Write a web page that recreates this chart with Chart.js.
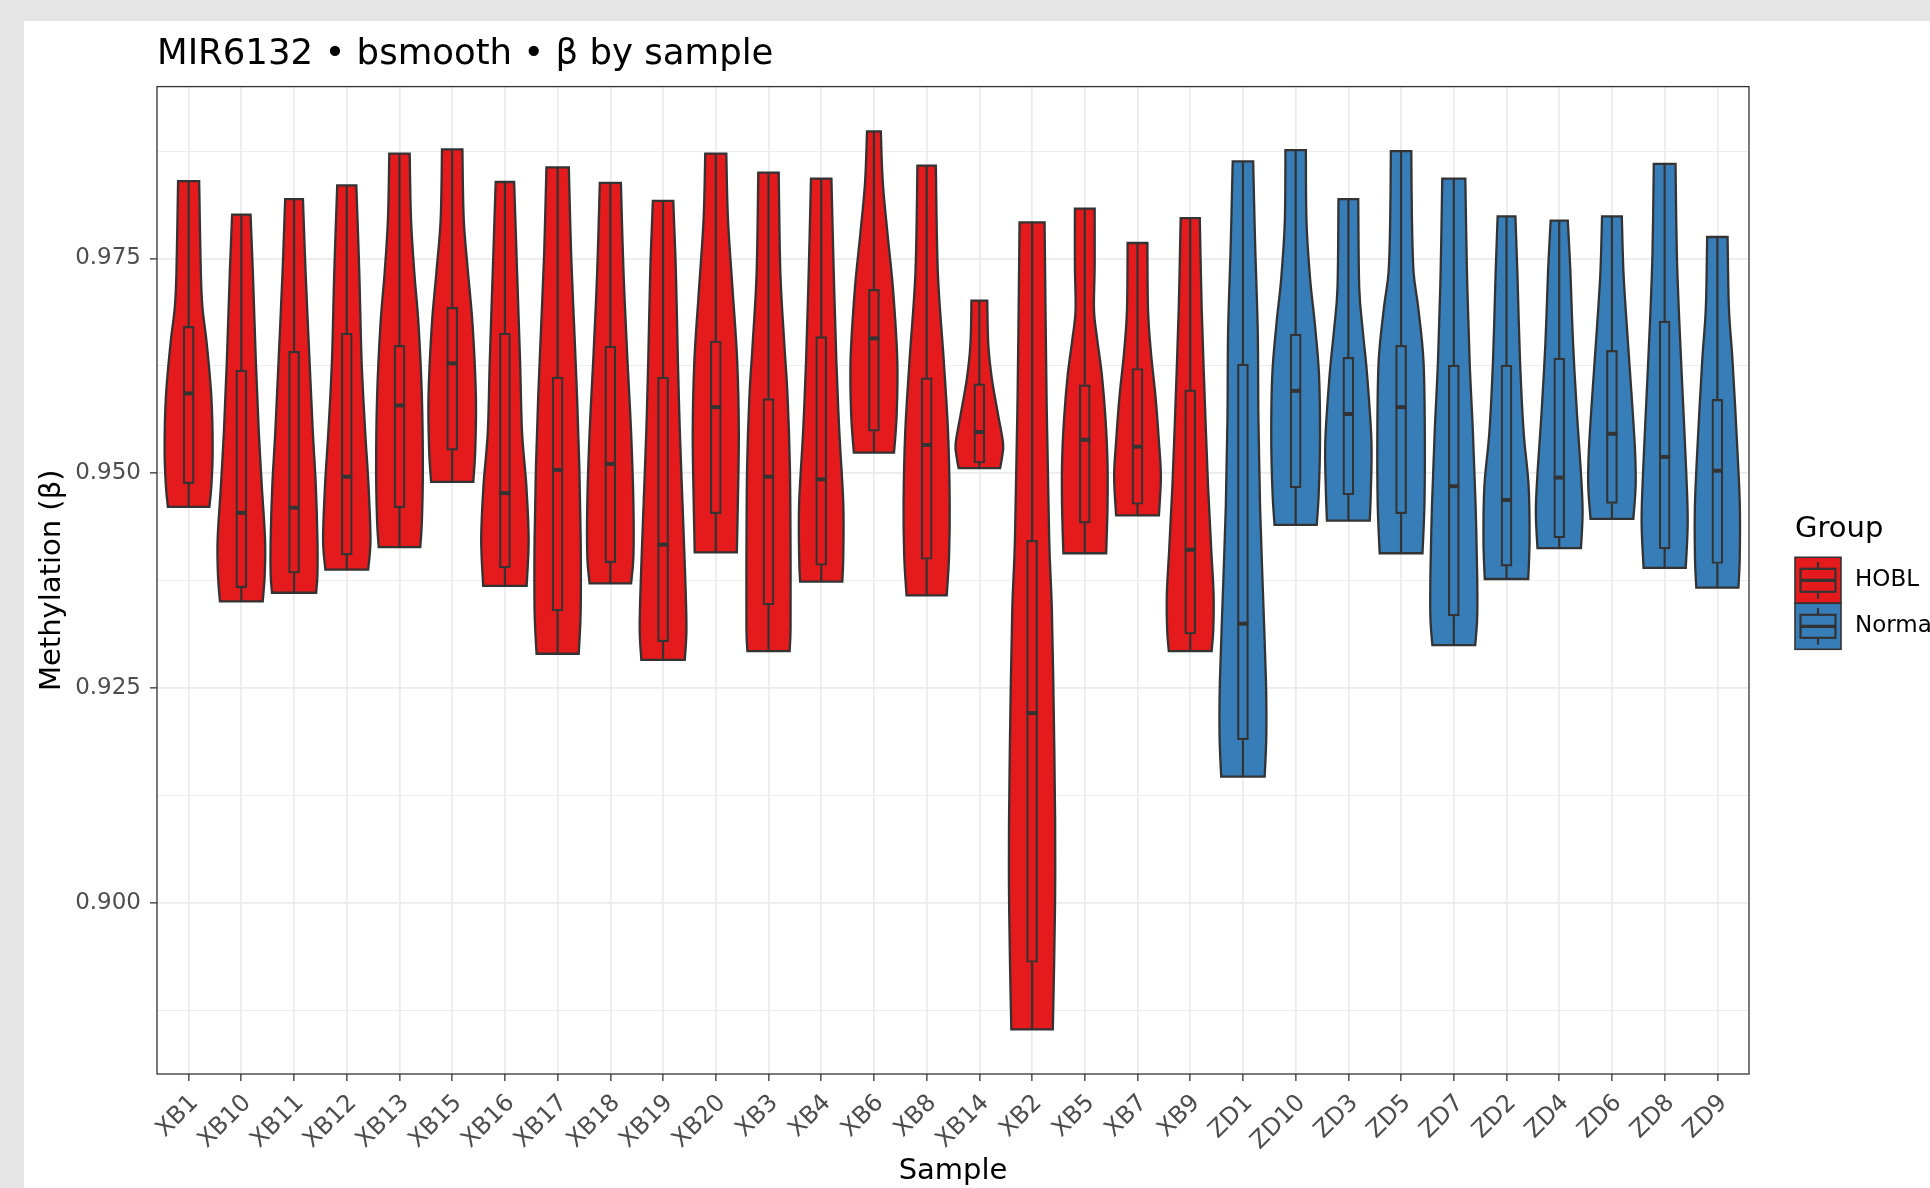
<!DOCTYPE html>
<html>
<head>
<meta charset="utf-8">
<title>MIR6132 violin</title>
<script src="https://cdn.jsdelivr.net/npm/chart.js@4.4.0/dist/chart.umd.min.js"></script>
<style>
  html, body { margin: 0; padding: 0; background: #e5e5e5; overflow: hidden; }
  .card { position: absolute; left: 24px; top: 21px; width: 1910px; height: 1170px; background: #ffffff; }
  #wrap { position: absolute; left: 0; top: 0; width: 1930px; height: 1188px; }
</style>
</head>
<body>
<div class="card"></div>
<div id="wrap"><canvas id="chart" width="1930" height="1188"></canvas></div>
<script>
// Samples in plotting order and their group
const samples = ['XB1', 'XB10', 'XB11', 'XB12', 'XB13', 'XB15', 'XB16', 'XB17', 'XB18', 'XB19',
  'XB20', 'XB3', 'XB4', 'XB6', 'XB8', 'XB14', 'XB2', 'XB5', 'XB7', 'XB9',
  'ZD1', 'ZD10', 'ZD3', 'ZD5', 'ZD7', 'ZD2', 'ZD4', 'ZD6', 'ZD8', 'ZD9'];
const groups = samples.map(s => s.startsWith('XB') ? 'HOBL' : 'Normal');

// Box plot statistics (beta values)
const whiskerHigh = [0.9840, 0.9801, 0.9819, 0.9835, 0.9872, 0.9877, 0.9839, 0.9856, 0.9838, 0.9817,
  0.9872, 0.9850, 0.9843, 0.9898, 0.9858, 0.9701, 0.9792, 0.9808, 0.9768, 0.9797,
  0.9863, 0.9876, 0.9819, 0.9875, 0.9843, 0.9799, 0.9794, 0.9799, 0.9860, 0.9775];
const q3 = [0.9671, 0.9620, 0.9642, 0.9663, 0.9649, 0.9693, 0.9663, 0.9612, 0.9648, 0.9612,
  0.9654, 0.9587, 0.9659, 0.9714, 0.9611, 0.9604, 0.9422, 0.9603, 0.9622, 0.9597,
  0.9627, 0.9662, 0.9635, 0.9649, 0.9626, 0.9626, 0.9634, 0.9643, 0.9677, 0.9586];
const medians = [0.9593, 0.9454, 0.9460, 0.9496, 0.9579, 0.9628, 0.9477, 0.9504, 0.9511, 0.9417,
  0.9577, 0.9496, 0.9493, 0.9657, 0.9533, 0.9548, 0.9221, 0.9539, 0.9531, 0.9411,
  0.9325, 0.9596, 0.9569, 0.9577, 0.9485, 0.9469, 0.9495, 0.9546, 0.9519, 0.9503];
const q1 = [0.9488, 0.9367, 0.9384, 0.9405, 0.9460, 0.9527, 0.9390, 0.9340, 0.9396, 0.9304,
  0.9453, 0.9347, 0.9393, 0.9549, 0.9400, 0.9512, 0.8931, 0.9442, 0.9464, 0.9313,
  0.9190, 0.9483, 0.9475, 0.9453, 0.9334, 0.9392, 0.9425, 0.9465, 0.9412, 0.9395];
const whiskerLow = [0.9461, 0.9351, 0.9361, 0.9388, 0.9414, 0.9490, 0.9369, 0.9290, 0.9372, 0.9283,
  0.9408, 0.9293, 0.9374, 0.9524, 0.9358, 0.9506, 0.8853, 0.9407, 0.9451, 0.9293,
  0.9147, 0.9440, 0.9445, 0.9407, 0.9300, 0.9377, 0.9413, 0.9447, 0.9390, 0.9367];

// Violin outlines: [beta, relative half width] from top to bottom
const violinProfiles = [
  [[0.9840, 32], [0.9734, 37], [0.9693, 42], [0.9651, 55], [0.9589, 69], [0.9527, 73], [0.9485, 69], [0.9461, 63]],
  [[0.9801, 28], [0.9734, 35], [0.9631, 44], [0.9548, 53], [0.9486, 62], [0.9423, 72], [0.9382, 71], [0.9351, 65]],
  [[0.9819, 27], [0.9734, 35], [0.9631, 47], [0.9548, 57], [0.9486, 66], [0.9423, 71], [0.9382, 71], [0.9361, 67]],
  [[0.9835, 29], [0.9734, 38], [0.9631, 45], [0.9548, 56], [0.9486, 66], [0.9423, 72], [0.9388, 65]],
  [[0.9872, 31], [0.9796, 35], [0.9734, 45], [0.9672, 58], [0.9589, 68], [0.9506, 71], [0.9444, 68], [0.9414, 63]],
  [[0.9877, 31], [0.9796, 35], [0.9734, 48], [0.9672, 62], [0.9589, 72], [0.9527, 70], [0.9490, 64]],
  [[0.9839, 28], [0.9734, 37], [0.9631, 46], [0.9548, 52], [0.9486, 65], [0.9423, 72], [0.9369, 66]],
  [[0.9856, 34], [0.9755, 41], [0.9672, 50], [0.9589, 59], [0.9506, 66], [0.9423, 70], [0.9340, 70], [0.9290, 64]],
  [[0.9838, 32], [0.9734, 40], [0.9631, 52], [0.9548, 63], [0.9465, 70], [0.9403, 70], [0.9372, 63]],
  [[0.9817, 31], [0.9734, 39], [0.9631, 45], [0.9548, 51], [0.9465, 59], [0.9382, 67], [0.9320, 71], [0.9283, 66]],
  [[0.9872, 32], [0.9796, 37], [0.9714, 51], [0.9631, 65], [0.9548, 70], [0.9465, 67], [0.9408, 64]],
  [[0.9850, 31], [0.9734, 36], [0.9651, 48], [0.9589, 58], [0.9506, 65], [0.9403, 67], [0.9320, 67], [0.9293, 64]],
  [[0.9843, 31], [0.9734, 38], [0.9631, 46], [0.9548, 55], [0.9465, 67], [0.9403, 67], [0.9374, 64]],
  [[0.9898, 21], [0.9838, 27], [0.9776, 42], [0.9714, 58], [0.9631, 71], [0.9568, 69], [0.9524, 61]],
  [[0.9858, 28], [0.9734, 34], [0.9631, 52], [0.9548, 65], [0.9465, 70], [0.9403, 68], [0.9358, 61]],
  [[0.9701, 24], [0.9651, 27], [0.9610, 38], [0.9568, 57], [0.9535, 72], [0.9519, 69], [0.9506, 63]],
  [[0.9792, 38], [0.9589, 44], [0.9423, 52], [0.9343, 60], [0.9219, 66], [0.9095, 70], [0.9012, 70], [0.8930, 67], [0.8853, 63]],
  [[0.9808, 30], [0.9741, 30], [0.9690, 28], [0.9655, 38], [0.9614, 52], [0.9563, 63], [0.9512, 69], [0.9461, 69], [0.9407, 65]],
  [[0.9768, 30], [0.9690, 32], [0.9640, 41], [0.9588, 55], [0.9537, 65], [0.9496, 71], [0.9451, 65]],
  [[0.9797, 29], [0.9690, 35], [0.9588, 44], [0.9486, 54], [0.9410, 64], [0.9359, 71], [0.9318, 70], [0.9293, 65]],
  [[0.9863, 31], [0.9767, 37], [0.9665, 45], [0.9563, 47], [0.9461, 52], [0.9359, 61], [0.9257, 70], [0.9195, 71], [0.9147, 66]],
  [[0.9876, 31], [0.9792, 33], [0.9726, 44], [0.9675, 58], [0.9614, 71], [0.9537, 74], [0.9476, 70], [0.9440, 64]],
  [[0.9819, 30], [0.9716, 33], [0.9665, 44], [0.9614, 57], [0.9537, 70], [0.9476, 68], [0.9445, 65]],
  [[0.9875, 31], [0.9796, 33], [0.9734, 38], [0.9693, 52], [0.9631, 68], [0.9548, 72], [0.9465, 71], [0.9407, 65]],
  [[0.9843, 35], [0.9734, 40], [0.9631, 48], [0.9548, 58], [0.9465, 66], [0.9382, 71], [0.9332, 71], [0.9300, 65]],
  [[0.9799, 27], [0.9734, 33], [0.9631, 41], [0.9548, 52], [0.9486, 67], [0.9423, 70], [0.9377, 66]],
  [[0.9794, 26], [0.9734, 34], [0.9651, 42], [0.9568, 54], [0.9506, 65], [0.9456, 71], [0.9413, 66]],
  [[0.9799, 30], [0.9734, 35], [0.9672, 45], [0.9589, 60], [0.9527, 70], [0.9486, 72], [0.9447, 65]],
  [[0.9860, 33], [0.9755, 37], [0.9672, 45], [0.9589, 55], [0.9506, 65], [0.9444, 70], [0.9390, 64]],
  [[0.9775, 31], [0.9693, 35], [0.9631, 46], [0.9548, 58], [0.9465, 68], [0.9403, 68], [0.9367, 64]]
];

// Axis ticks
const yMajorTicks = [0.900, 0.925, 0.950, 0.975];
const yMinorTicks = [0.8875, 0.9125, 0.9375, 0.9625, 0.9875];
const yRange = [0.8801, 0.9950];

const groupNames = ['HOBL', 'Normal'];
const groupColors = { HOBL: '#E41A1C', Normal: '#377EB8' };

const FONT = "'DejaVu Sans', 'Noto Sans', sans-serif";
const WIDTH_SCALE = 1 / 160;   // relative width -> x units
const INK = '#333333';
const BOX_PX = 11;

// smooth curve through a list of pixel points (Catmull-Rom as bezier)
function curveThrough(ctx, p) {
  for (let k = 0; k < p.length - 1; k++) {
    const p0 = p[k - 1] || p[k], p1 = p[k], p2 = p[k + 1], p3 = p[k + 2] || p2;
    ctx.bezierCurveTo(
      p1[0] + (p2[0] - p0[0]) / 6, p1[1] + (p2[1] - p0[1]) / 6,
      p2[0] - (p3[0] - p1[0]) / 6, p2[1] - (p3[1] - p1[1]) / 6,
      p2[0], p2[1]);
  }
}

const violinPlugin = {
  id: 'violins',
  beforeDatasetsDraw(chart) {
    const { ctx, scales: { x, y } } = chart;
    ctx.save();
    samples.forEach((name, i) => {
      const cx = x.getPixelForValue(i);
      const right = violinProfiles[i].map(([v, w]) => [x.getPixelForValue(i + w * WIDTH_SCALE), y.getPixelForValue(v)]);
      const left = violinProfiles[i].map(([v, w]) => [x.getPixelForValue(i - w * WIDTH_SCALE), y.getPixelForValue(v)]).reverse();
      ctx.beginPath();
      ctx.moveTo(left[left.length - 1][0], left[left.length - 1][1]);
      ctx.lineTo(right[0][0], right[0][1]);
      curveThrough(ctx, right);
      ctx.lineTo(left[0][0], left[0][1]);
      curveThrough(ctx, left);
      ctx.closePath();
      ctx.fillStyle = groupColors[groups[i]];
      ctx.fill();
      ctx.lineWidth = 2.3;
      ctx.strokeStyle = INK;
      ctx.lineJoin = 'miter';
      ctx.stroke();

      // whiskers
      ctx.beginPath();
      ctx.moveTo(cx, y.getPixelForValue(whiskerHigh[i]));
      ctx.lineTo(cx, y.getPixelForValue(q3[i]));
      ctx.moveTo(cx, y.getPixelForValue(q1[i]));
      ctx.lineTo(cx, y.getPixelForValue(whiskerLow[i]));
      ctx.lineWidth = 2.2;
      ctx.stroke();
    });
    ctx.restore();
  },
  afterDatasetsDraw(chart) {
    const { ctx, chartArea, scales: { x, y } } = chart;
    ctx.save();
    // medians
    ctx.strokeStyle = INK;
    ctx.lineWidth = 4;
    ctx.lineCap = 'butt';
    samples.forEach((name, i) => {
      const cx = x.getPixelForValue(i);
      const my = y.getPixelForValue(medians[i]);
      ctx.beginPath();
      ctx.moveTo(cx - BOX_PX / 2, my);
      ctx.lineTo(cx + BOX_PX / 2, my);
      ctx.stroke();
    });
    // panel border
    ctx.lineWidth = 1.3;
    ctx.strokeStyle = INK;
    ctx.strokeRect(chartArea.left, chartArea.top, chartArea.right - chartArea.left, chartArea.bottom - chartArea.top);
    ctx.restore();
  },
  afterDraw(chart) {
    const { ctx, chartArea } = chart;
    const mid = (chartArea.top + chartArea.bottom) / 2;
    const lx = chartArea.right + 46;
    const key = 46;
    ctx.save();
    ctx.fillStyle = '#000';
    ctx.font = '29px ' + FONT;
    ctx.textBaseline = 'middle';
    ctx.textAlign = 'left';
    ctx.fillText('Group', lx, mid - 51);
    groupNames.forEach((g, k) => {
      const ky = mid - 23 + k * key;
      const col = groupColors[g];
      ctx.fillStyle = col;
      ctx.fillRect(lx, ky, key, key);
      ctx.strokeStyle = INK;
      ctx.lineWidth = 1.6;
      ctx.strokeRect(lx, ky, key, key);
      const kc = lx + key / 2;
      ctx.lineWidth = 2.2;
      ctx.beginPath();
      ctx.moveTo(kc, ky + key * 0.1); ctx.lineTo(kc, ky + key * 0.25);
      ctx.moveTo(kc, ky + key * 0.75); ctx.lineTo(kc, ky + key * 0.9);
      ctx.stroke();
      ctx.fillRect(lx + key * 0.12, ky + key * 0.25, key * 0.76, key * 0.5);
      ctx.strokeRect(lx + key * 0.12, ky + key * 0.25, key * 0.76, key * 0.5);
      ctx.lineWidth = 3.2;
      ctx.beginPath();
      ctx.moveTo(lx + key * 0.12, ky + key * 0.5); ctx.lineTo(lx + key * 0.88, ky + key * 0.5);
      ctx.stroke();
      ctx.fillStyle = '#000';
      ctx.font = '23px ' + FONT;
      ctx.fillText(g, lx + key + 14, ky + key / 2);
    });
    ctx.restore();
  }
};

const isMajor = v => yMajorTicks.some(t => Math.abs(t - v) < 1e-9);

const ctx = document.getElementById('chart').getContext('2d');
new Chart(ctx, {
  type: 'bar',
  data: {
    datasets: [{
      label: 'IQR',
      data: samples.map((s, i) => ({ x: i, y: [q1[i], q3[i]] })),
      backgroundColor: groups.map(g => groupColors[g]),
      borderColor: INK,
      borderWidth: 2.2,
      borderSkipped: false,
      barThickness: BOX_PX
    }]
  },
  options: {
    responsive: false,
    animation: false,
    events: [],
    layout: { padding: { left: 0, right: 181, top: 0, bottom: 0 } },
    plugins: {
      legend: { display: false },
      tooltip: { enabled: false },
      title: {
        display: true,
        text: 'MIR6132 • bsmooth • β by sample',
        align: 'start',
        fullSize: false,
        color: '#000',
        font: { family: FONT, size: 35.5, weight: 'normal' },
        padding: { top: 33, bottom: 11 }
      }
    },
    scales: {
      x: {
        type: 'linear',
        min: -0.6,
        max: samples.length - 0.4,
        offset: false,
        afterBuildTicks: s => { s.ticks = samples.map((_, i) => ({ value: i })); },
        afterFit: s => { s.height = 114; },
        ticks: {
          autoSkip: false,
          minRotation: 45,
          maxRotation: 45,
          padding: 8,
          labelOffset: 6,
          color: '#4D4D4D',
          font: { family: FONT, size: 24 },
          callback: v => samples[v]
        },
        grid: { color: '#EBEBEB', lineWidth: 1.7, offset: false, tickColor: INK, tickLength: 7, tickWidth: 1.3 },
        border: { display: false },
        title: {
          display: true, text: 'Sample', color: '#000',
          font: { family: FONT, size: 29, lineHeight: 1.0 }, padding: { top: 0, bottom: 2 }
        }
      },
      y: {
        type: 'linear',
        min: yRange[0],
        max: yRange[1],
        afterBuildTicks: s => {
          s.ticks = [...yMinorTicks, ...yMajorTicks].sort((a, b) => a - b).map(v => ({ value: v }));
        },
        afterFit: s => { s.width = 157; },
        ticks: {
          padding: 9,
          color: '#4D4D4D',
          font: { family: FONT, size: 23 },
          callback: v => isMajor(v) ? v.toFixed(3) : ''
        },
        grid: {
          color: '#EBEBEB',
          lineWidth: c => (c.tick && isMajor(c.tick.value)) ? 1.7 : 0.9,
          tickColor: c => (c.tick && isMajor(c.tick.value)) ? INK : 'rgba(0,0,0,0)',
          tickLength: 7,
          tickWidth: 1.3
        },
        border: { display: false },
        title: {
          display: true, text: 'Methylation (β)', color: '#000',
          font: { family: FONT, size: 29 }, padding: { top: 35, bottom: 0 }
        }
      }
    }
  },
  plugins: [violinPlugin]
});
</script>
</body>
</html>
